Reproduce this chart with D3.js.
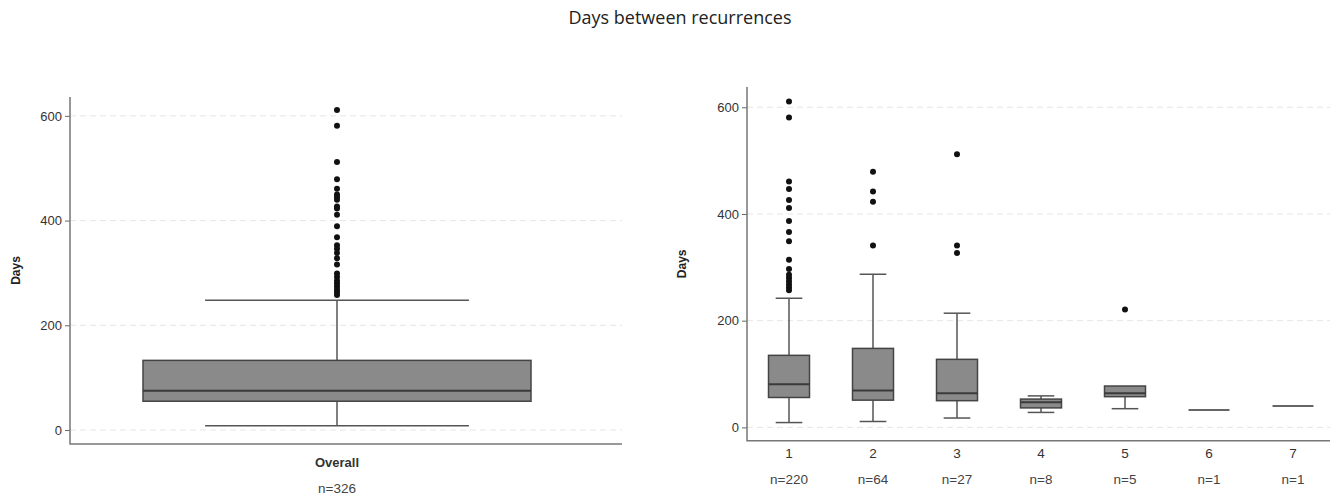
<!DOCTYPE html>
<html>
<head>
<meta charset="utf-8">
<script src="https://cdn.jsdelivr.net/npm/d3@7"></script>
<style>
  body{margin:0;background:#fff;}
  svg text{font-family:"Liberation Sans",Arial,sans-serif;fill:#333;}
  .title{font-family:"Open Sans",sans-serif !important;}
</style>
</head>
<body>
<div id="chart"></div>
<script>
// overall distribution (left panel)
const overallStats = {lo: 8, q1: 55, med: 75, q3: 133, hi: 248};
const overallOutliers = [611, 581, 512, 479, 461, 450, 445, 440, 427, 423, 411, 389, 368, 353, 346, 338, 328, 316, 299, 292, 285, 280, 274, 268, 263, 258];
const overallN = 326;

// by recurrence number (right panel)
const groups = ['1', '2', '3', '4', '5', '6', '7'];
const groupN = [220, 64, 27, 8, 5, 1, 1];
const wLo  = [9, 11, 17.5, 28, 35, 32.5, 40];
const q1s  = [56, 51, 50, 36.5, 57.5, 32.5, 40];
const meds = [81, 69, 64, 47, 64, 32.5, 40];
const q3s  = [135, 148, 127.5, 53, 77.5, 32.5, 40];
const wHi  = [242, 287, 214, 59, 77.5, 32.5, 40];
const groupOutliers = [
  [611, 581, 461, 447, 426, 411, 387, 366, 349, 314, 297, 286, 280, 274, 268, 262, 257],
  [479, 442, 423, 341],
  [512, 341, 327],
  [],
  [221],
  [],
  []
];
const yTicks = [0, 200, 400, 600];

const W = 1341, H = 497;
const svg = d3.select('#chart').append('svg').attr('width', W).attr('height', H);

svg.append('text').attr('class', 'title')
  .attr('x', 680).attr('y', 24).attr('text-anchor', 'middle')
  .style('font-size', '18px').style('fill', '#222')
  .text('Days between recurrences');

function panel(opt){
  const g = svg.append('g');
  const y = d3.scaleLinear().domain(opt.yDomain).range([opt.bottom, opt.top]);
  const x = d3.scaleBand().domain(opt.cats).range([opt.left, opt.bandRight]);

  // dashed grid
  g.append('g').selectAll('line').data(yTicks).join('line')
    .attr('x1', opt.left).attr('x2', opt.right)
    .attr('y1', d => y(d)).attr('y2', d => y(d))
    .attr('stroke', '#e6e6e6').attr('stroke-width', 1).attr('stroke-dasharray', '6,4');

  // y axis
  const ya = g.append('g').attr('transform', `translate(${opt.left},0)`)
    .call(d3.axisLeft(y).tickValues(yTicks).tickSize(5).tickPadding(3));
  ya.select('.domain').remove();
  ya.selectAll('.tick line').attr('stroke', '#666');
  ya.selectAll('.tick text').style('font-size', '13px').style('fill', '#333');

  // x axis (labels only)
  const xa = g.append('g').attr('transform', `translate(0,${opt.bottom})`)
    .call(d3.axisBottom(x).tickSize(0).tickPadding(opt.catPad).tickFormat(opt.catFormat));
  xa.select('.domain').remove();
  xa.selectAll('.tick text').style('font-size', opt.catSize).style('font-weight', opt.catWeight).style('fill', '#333');

  // axis lines
  g.append('path')
    .attr('d', `M${opt.left},${opt.top}V${opt.bottom}H${opt.right}`)
    .attr('fill', 'none').attr('stroke', '#777').attr('stroke-width', 1.5);

  // n labels
  g.append('g').selectAll('text').data(opt.cats).join('text')
    .attr('x', d => x(d) + x.bandwidth() / 2).attr('y', opt.bottom + opt.nOffset)
    .attr('text-anchor', 'middle').style('font-size', '13.5px').style('fill', '#444')
    .text((d, i) => 'n=' + opt.n[i]);

  // y label
  g.append('text')
    .attr('transform', `translate(${opt.labelX},${(opt.top + opt.bottom) / 2}) rotate(-90)`)
    .attr('text-anchor', 'middle').style('font-size', '12px').style('font-weight', 'bold').style('fill', '#222')
    .text('Days');

  const bw = opt.boxW, cw = bw * opt.capFrac;
  const boxes = g.append('g').selectAll('g').data(opt.stats).join('g')
    .attr('transform', (d, i) => `translate(${x(opt.cats[i]) + x.bandwidth() / 2},0)`);

  // whiskers
  boxes.filter(d => d.hi > d.q3).append('line')
    .attr('y1', d => y(d.q3)).attr('y2', d => y(d.hi)).attr('stroke', '#555').attr('stroke-width', 1.5);
  boxes.filter(d => d.lo < d.q1).append('line')
    .attr('y1', d => y(d.q1)).attr('y2', d => y(d.lo)).attr('stroke', '#555').attr('stroke-width', 1.5);
  boxes.filter(d => d.hi > d.q3).append('line')
    .attr('x1', -cw / 2).attr('x2', cw / 2).attr('y1', d => y(d.hi)).attr('y2', d => y(d.hi))
    .attr('stroke', '#555').attr('stroke-width', 1.5);
  boxes.filter(d => d.lo < d.q1).append('line')
    .attr('x1', -cw / 2).attr('x2', cw / 2).attr('y1', d => y(d.lo)).attr('y2', d => y(d.lo))
    .attr('stroke', '#555').attr('stroke-width', 1.5);

  // box
  boxes.filter(d => d.q3 > d.q1).append('rect')
    .attr('x', -bw / 2).attr('width', bw)
    .attr('y', d => y(d.q3)).attr('height', d => y(d.q1) - y(d.q3))
    .attr('fill', '#8a8a8a').attr('stroke', '#444').attr('stroke-width', 1.5);
  boxes.append('line')
    .attr('x1', -bw / 2).attr('x2', bw / 2).attr('y1', d => y(d.med)).attr('y2', d => y(d.med))
    .attr('stroke', d => d.q3 > d.q1 ? '#3a3a3a' : '#666').attr('stroke-width', d => d.q3 > d.q1 ? 2 : 1.8);

  // outliers
  boxes.selectAll('circle').data(d => d.out).join('circle')
    .attr('cx', 0).attr('cy', v => y(v)).attr('r', 3).attr('fill', '#111');
}

panel({
  cats: ['Overall'], n: [overallN],
  stats: [Object.assign({out: overallOutliers}, overallStats)],
  left: 70, right: 622, bandRight: 604, top: 97, bottom: 444,
  yDomain: [-26.7, 636],
  boxW: 388, capFrac: 0.68,
  catFormat: d => d, catSize: '13px', catWeight: 'bold', catPad: 14,
  nOffset: 49, labelX: 20
});

panel({
  cats: groups, n: groupN,
  stats: groups.map((g, i) => ({lo: wLo[i], q1: q1s[i], med: meds[i], q3: q3s[i], hi: wHi[i], out: groupOutliers[i]})),
  left: 747, right: 1330, bandRight: 1335, top: 87, bottom: 440.7,
  yDomain: [-25, 638],
  boxW: 41, capFrac: 0.65,
  catFormat: d => d, catSize: '13.5px', catWeight: 'normal', catPad: 8,
  nOffset: 43, labelX: 686
});
</script>
</body>
</html>
